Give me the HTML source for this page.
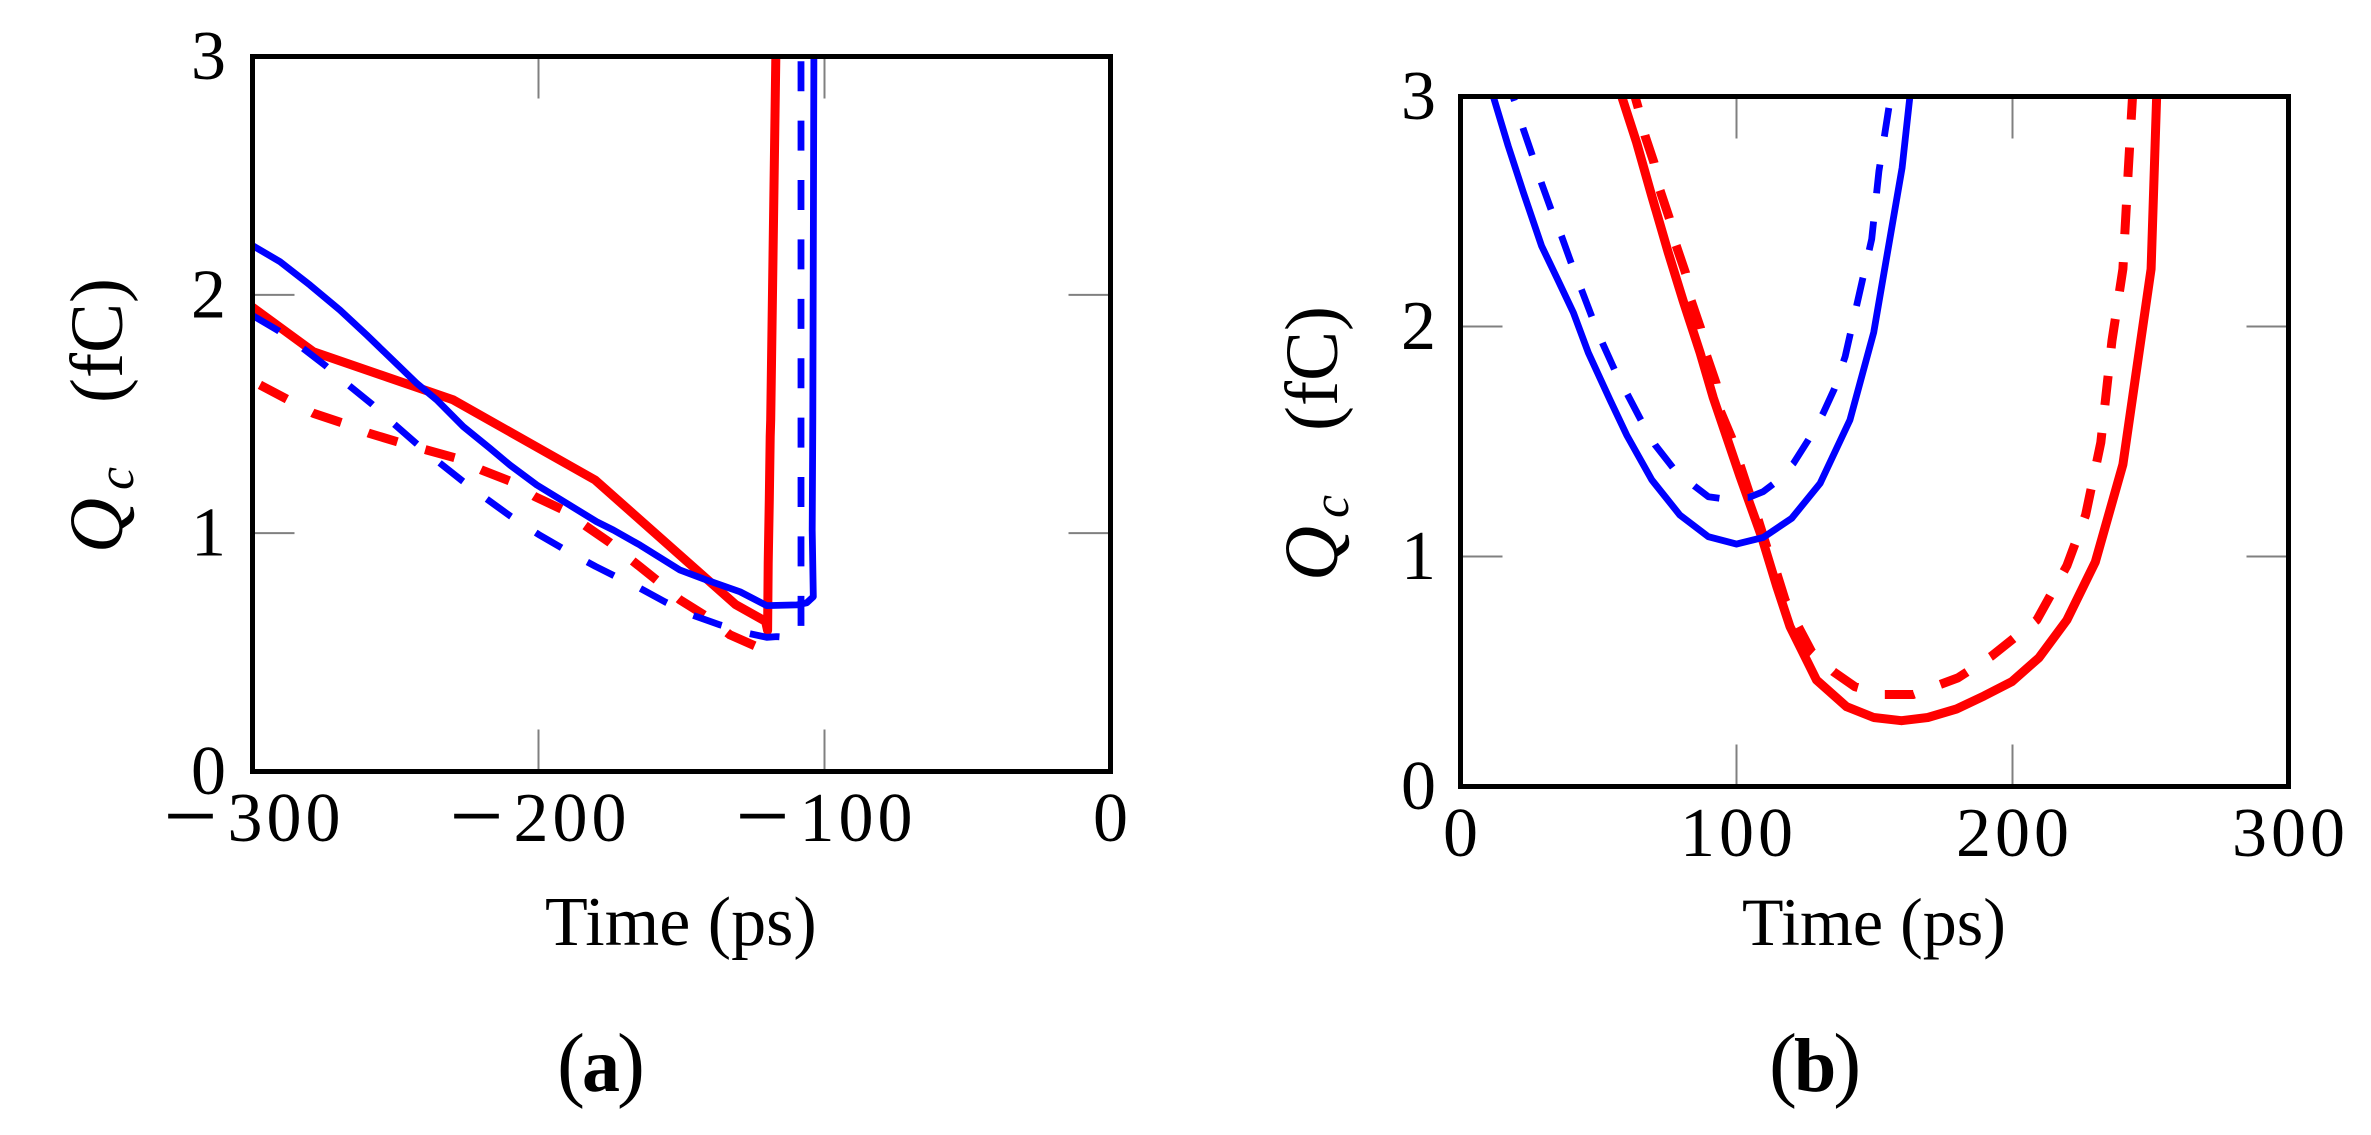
<!DOCTYPE html>
<html lang="en">
<head>
<meta charset="utf-8">
<title>Collected charge versus time</title>
<style>
html,body{margin:0;padding:0;background:#fff;width:2371px;height:1135px;overflow:hidden}
svg{display:block}
text{font-family:"Liberation Serif",serif;fill:#000}
</style>
</head>
<body>
<svg id="figure" xmlns="http://www.w3.org/2000/svg" width="2371" height="1135" viewBox="0 0 2371 1135">
  <text x="557" y="1091" font-size="84">(<tspan font-weight="bold" font-size="76" dx="-3">a</tspan><tspan dx="-3">)</tspan></text>
  <text x="1769" y="1091" font-size="84">(<tspan font-weight="bold" font-size="76" dx="-3">b</tspan><tspan dx="-3">)</tspan></text>
  <text x="545" y="945" font-size="70">Time (ps)</text>
  <text x="1742" y="945" font-size="68">Time (ps)</text>
  <g>
    <text transform="translate(122,553) rotate(-90)" font-size="76" font-style="italic">Q</text>
    <text transform="translate(133,490) rotate(-90)" font-size="52" font-style="italic">c</text>
    <text transform="translate(122,403) rotate(-90)" font-size="75">(fC)</text>
  </g>
  <g>
    <text transform="translate(1337,581) rotate(-90)" font-size="76" font-style="italic">Q</text>
    <text transform="translate(1348,518) rotate(-90)" font-size="52" font-style="italic">c</text>
    <text transform="translate(1337,431) rotate(-90)" font-size="75">(fC)</text>
  </g>
</svg>
<script>
// Panel (a) data: time in ps, collected charge in fC
const aBlueSolidTime = [-300,-290.4,-279.9,-269.4,-260.1,-250.8,-242.6,-235.6,-226.3,-217,-210,-200.6,-190.1,-179.7,-173.8,-164.5,-150.5,-141.2,-129.5,-120.2,-109.7,-106.2,-103.9,-104.3,-104.1,-103.7];
const aBlueSolidCharge = [2.207,2.139,2.041,1.936,1.832,1.724,1.629,1.559,1.447,1.356,1.286,1.202,1.125,1.048,1.013,0.95,0.845,0.803,0.754,0.696,0.699,0.708,0.733,1.013,1.475,3.02];
const aBlueDashedTime = [-299.7,-291,-282.8,-274.3,-266.5,-258.3,-250.8,-242.8,-234.8,-226.7,-218.4,-210,-200,-190,-180,-170,-164.5,-155.8,-146.4,-136.5,-126.7,-120.2,-116.7,-110.2,-108.2,-108.2];
const aBlueDashedCharge = [1.911,1.85,1.78,1.701,1.622,1.542,1.461,1.377,1.297,1.22,1.146,1.073,0.995,0.925,0.86,0.80,0.769,0.712,0.657,0.615,0.58,0.563,0.566,0.56,0.608,3.02];
const aRedSolidTime = [-300,-278.7,-229.8,-180.2,-131,-120.6,-119.9,-119.7,-119.3,-119,-118.8,-117];
const aRedSolidCharge = [1.948,1.761,1.559,1.223,0.70,0.63,0.591,0.875,1.139,1.405,1.475,3.02];
const aRedDashedTime = [-297.4,-287.5,-278.7,-268.2,-259.2,-248.7,-239.1,-228.6,-219.9,-209.4,-201.2,-191.3,-183.1,-175,-164.5,-158.7,-150.5,-141.2,-133,-123.7];
const aRedDashedCharge = [1.622,1.559,1.503,1.461,1.419,1.381,1.349,1.314,1.265,1.216,1.153,1.097,1.027,0.96,0.859,0.803,0.72,0.65,0.573,0.524];
const aXTickLabels = [-300,-200,-100,0];
const aYTickLabels = [0,1,2,3];

// Panel (b) data: time in ps, collected charge in fC
const bBlueSolidTime = [11.9,17.3,22.8,29.4,34.9,40.9,46.3,54.2,60.2,69.3,79.5,89.8,100,109.7,120,130.3,141.1,149.7,160,163];
const bBlueSolidCharge = [3.0,2.785,2.582,2.35,2.212,2.06,1.886,1.68,1.528,1.333,1.18,1.086,1.054,1.083,1.166,1.318,1.593,1.974,2.69,3.02];
const bBlueDashedTime = [16.1,19.7,22.8,26.2,29.4,33,36.7,40.3,43.9,47.8,51.5,56,60.8,65.7,70.5,77.1,85,89.8,94,104.3,109.7,113.3,120.6,126,131.4,135.5,139.4,143.5,149,151.6,156.5];
const bBlueDashedCharge = [3.1,2.976,2.857,2.738,2.622,2.502,2.39,2.27,2.158,2.036,1.927,1.807,1.698,1.586,1.485,1.384,1.304,1.26,1.253,1.256,1.282,1.315,1.405,1.507,1.623,1.73,1.87,2.09,2.38,2.675,3.05];
const bRedSolidTime = [58.4,63.8,69.3,75.3,80.7,86.8,91.6,101.3,109.1,114.6,119.4,129,139.9,149.7,159.8,169.3,179.7,189.7,199.8,209.6,219.7,230,240,250.2,252.3];
const bRedSolidCharge = [3.0,2.8,2.567,2.321,2.111,1.886,1.69,1.347,1.086,0.869,0.695,0.463,0.347,0.30,0.286,0.30,0.337,0.394,0.456,0.56,0.724,0.976,1.40,2.25,3.02];
const bRedDashedTime = [61.5,64.4,66.8,70.1,72.3,75.7,78.1,81.6,83.5,87,89.2,92.6,94,98.3,101.3,104.9,107.9,110.9,114.6,117.6,122.4,127.2,135.1,142.9,153,164,180.2,192.4,208.8,219.7,226.5,232,236,240,242,243.6];
const bRedDashedCharge = [3.073,2.951,2.831,2.712,2.592,2.47,2.353,2.231,2.114,1.992,1.872,1.753,1.637,1.514,1.398,1.267,1.159,1.043,0.927,0.811,0.695,0.586,0.499,0.434,0.40,0.40,0.472,0.567,0.724,0.96,1.18,1.495,1.936,2.25,2.69,3.02];
const bXTickLabels = [0,100,200,300];
const bYTickLabels = [0,1,2,3];

const NS = 'http://www.w3.org/2000/svg';
const figure = document.getElementById('figure');

function scale(d0, d1, r0, r1) {
  return function (v) { return r0 + (v - d0) / (d1 - d0) * (r1 - r0); };
}

function addLine(parent, x1, y1, x2, y2, name) {
  const el = document.createElementNS(NS, 'line');
  el.setAttribute('x1', x1);
  el.setAttribute('y1', y1);
  el.setAttribute('x2', x2);
  el.setAttribute('y2', y2);
  el.setAttribute('stroke', '#808080');
  el.setAttribute('stroke-width', '2');
  
  
  parent.appendChild(el);
}

function addSeries(parent, xs, ys, xFn, yFn, name, color, width, dash, clipId) {
  const el = document.createElementNS(NS, 'polyline');
  el.setAttribute('points', xs.map(function (t, i) { return xFn(t).toFixed(1) + ',' + yFn(ys[i]).toFixed(1); }).join(' '));
  el.setAttribute('fill', 'none');
  el.setAttribute('stroke', color);
  el.setAttribute('stroke-width', width);
  el.setAttribute('stroke-linejoin', 'round');
  if (dash) el.setAttribute('stroke-dasharray', dash);
  el.setAttribute('clip-path', 'url(#' + clipId + ')');
  
  
  parent.appendChild(el);
}

function addLabel(parent, x, y, anchor, value, name) {
  const el = document.createElementNS(NS, 'text');
  el.setAttribute('x', x);
  el.setAttribute('y', y);
  el.setAttribute('text-anchor', anchor);
  el.setAttribute('font-size', '70');
  const digitText = String(Math.abs(value));
  if (digitText.length > 1) el.setAttribute('letter-spacing', '4');
  if (value < 0) {
    const minus = document.createElementNS(NS, 'tspan');
    minus.setAttribute('font-size', '96');
    minus.setAttribute('dy', '7');
    minus.setAttribute('letter-spacing', '0');
    minus.textContent = '\u2212';
    const digits = document.createElementNS(NS, 'tspan');
    digits.setAttribute('dy', '-7');
    digits.setAttribute('dx', '10');
    digits.textContent = digitText;
    el.appendChild(minus);
    el.appendChild(digits);
  } else {
    el.textContent = digitText;
  }
  
  
  parent.appendChild(el);
}

function drawPanel(p) {
  const g = document.createElementNS(NS, 'g');
  
  
  figure.appendChild(g);

  const x = scale(p.xMin, p.xMax, p.left, p.right);
  const y = scale(0, 3, p.bottom, p.top);

  const clipId = p.id + '-clip';
  const clip = document.createElementNS(NS, 'clipPath');
  clip.setAttribute('id', clipId);
  const clipRect = document.createElementNS(NS, 'rect');
  clipRect.setAttribute('x', p.left);
  clipRect.setAttribute('y', p.top);
  clipRect.setAttribute('width', p.right - p.left);
  clipRect.setAttribute('height', p.bottom - p.top);
  clip.appendChild(clipRect);
  g.appendChild(clip);

  const tickLen = 42;
  p.xTicks.forEach(function (v) {
    if (v !== p.xMin && v !== p.xMax) {
      addLine(g, x(v), p.bottom, x(v), p.bottom - tickLen, p.id + '-x-tick-bottom');
      addLine(g, x(v), p.top, x(v), p.top + tickLen, p.id + '-x-tick-top');
    }
    if (v < 0) {
      addLabel(g, x(v) + 92, p.xLabelY, 'end', v, p.id + '-x-tick-label');
    } else {
      addLabel(g, x(v) + (String(v).length > 1 ? 2 : 0), p.xLabelY, 'middle', v, p.id + '-x-tick-label');
    }
  });
  p.yTicks.forEach(function (v) {
    if (v !== 0 && v !== 3) {
      addLine(g, p.left, y(v), p.left + tickLen, y(v), p.id + '-y-tick-left');
      addLine(g, p.right, y(v), p.right - tickLen, y(v), p.id + '-y-tick-right');
    }
    addLabel(g, p.yLabelX, y(v) + 22.5, 'end', v, p.id + '-y-tick-label');
  });

  addSeries(g, p.redDashed[0], p.redDashed[1], x, y, p.id + '-red-dashed-line', '#ff0000', 9, p.redDash, clipId);
  addSeries(g, p.redSolid[0], p.redSolid[1], x, y, p.id + '-red-solid-line', '#ff0000', 9, '', clipId);
  addSeries(g, p.blueDashed[0], p.blueDashed[1], x, y, p.id + '-blue-dashed-line', '#0000ff', 6.8, p.blueDash, clipId);
  addSeries(g, p.blueSolid[0], p.blueSolid[1], x, y, p.id + '-blue-solid-line', '#0000ff', 6.8, '', clipId);

  const frame = document.createElementNS(NS, 'rect');
  frame.setAttribute('x', p.left);
  frame.setAttribute('y', p.top);
  frame.setAttribute('width', p.right - p.left);
  frame.setAttribute('height', p.bottom - p.top);
  frame.setAttribute('fill', 'none');
  frame.setAttribute('stroke', '#000');
  frame.setAttribute('stroke-width', '5');
  
  
  g.appendChild(frame);
}

drawPanel({
  id: 'panel-a', left: 252.5, right: 1110.5, top: 56.5, bottom: 771.5,
  xMin: -300, xMax: 0, xLabelY: 841, yLabelX: 226,
  xTicks: aXTickLabels, yTicks: aYTickLabels,
  redDash: '30.5 28.9', blueDash: '30 29.4',
  redDashed: [aRedDashedTime, aRedDashedCharge],
  redSolid: [aRedSolidTime, aRedSolidCharge],
  blueDashed: [aBlueDashedTime, aBlueDashedCharge],
  blueSolid: [aBlueSolidTime, aBlueSolidCharge]
});

drawPanel({
  id: 'panel-b', left: 1460.5, right: 2288.5, top: 96.5, bottom: 786.5,
  xMin: 0, xMax: 300, xLabelY: 856, yLabelX: 1436,
  xTicks: bXTickLabels, yTicks: bYTickLabels,
  redDash: '29.5 27.9', blueDash: '29 28.3',
  redDashed: [bRedDashedTime, bRedDashedCharge],
  redSolid: [bRedSolidTime, bRedSolidCharge],
  blueDashed: [bBlueDashedTime, bBlueDashedCharge],
  blueSolid: [bBlueSolidTime, bBlueSolidCharge]
});
</script>
</body>
</html>
